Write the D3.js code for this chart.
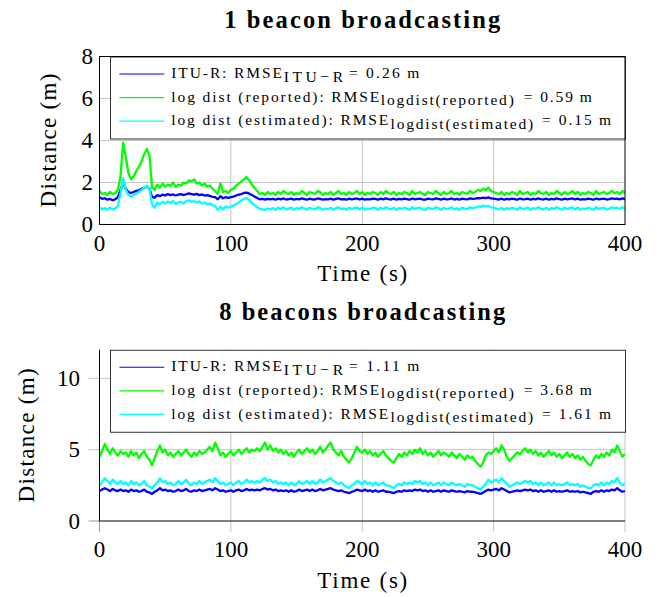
<!DOCTYPE html>
<html><head><meta charset="utf-8">
<script src="https://cdn.jsdelivr.net/npm/d3@7"></script>
<style>body{margin:0;background:#fff}</style>
</head><body>
<svg id="c" width="659" height="597"></svg>
<script>
// ---------------- data ----------------
const times = d3.range(0, 401, 2); // sample instants (s)
const seriesNames = ["ITU-R", "log dist (reported)", "log dist (estimated)"];
const seriesColors = ["#0000ff", "#00ff00", "#00ffff"];
const rmseSubs = ["ITU\u2212R", "logdist(reported)", "logdist(estimated)"];
const rmse1 = ["0.26", "0.59", "0.15"];
const rmse8 = ["1.11", "3.68", "1.61"];
const titles = ["1 beacon broadcasting", "8 beacons broadcasting"];
const xTicks = [0, 100, 200, 300, 400];
const yTicks1 = [0, 2, 4, 6, 8];
const yTicks8 = [0, 5, 10];

const itu1 = [1.3,1.22,1.25,1.18,1.22,1.15,1.2,1.3,
1.65,2.0,1.7,1.55,1.5,1.55,1.6,1.62,1.7,1.75,1.8,1.72,1.3,1.28,
1.4,1.35,1.42,1.38,1.45,1.4,1.43,1.38,1.42,1.45,1.4,1.44,1.48,1.45,1.42,1.46,1.4,1.43,1.38,1.4,1.36,1.32,
1.3,1.2,1.35,1.25,1.3,1.27,1.3,1.33,1.38,1.42,1.45,1.5,1.52,1.47,1.4,1.33,1.26,1.2,1.22,1.18,1.22,1.2,
1.22,1.18,1.23,1.2,1.24,1.19,1.21,1.23,1.18,1.22,
1.2,1.24,1.21,1.18,1.23,1.2,1.19,1.24,1.22,1.18,
1.21,1.2,1.23,1.18,1.22,1.24,1.2,1.21,1.18,1.23,
1.2,1.22,1.24,1.19,1.23,1.18,1.21,1.2,1.23,1.22,
1.18,1.23,1.2,1.24,1.21,1.19,1.23,1.18,1.22,1.2,
1.23,1.21,1.18,1.24,1.2,1.22,1.23,1.19,1.18,1.23,
1.21,1.2,1.24,1.22,1.18,1.23,1.2,1.21,1.24,1.19,
1.22,1.18,1.23,1.21,1.2,1.24,1.22,1.23,1.26,1.25,
1.28,1.26,1.29,1.24,1.23,1.21,1.19,1.23,1.18,1.22,
1.2,1.23,1.21,1.18,1.24,1.2,1.21,1.23,1.18,1.22,
1.2,1.24,1.21,1.19,1.23,1.18,1.22,1.2,1.24,1.21,
1.18,1.23,1.2,1.22,1.24,1.19,1.23,1.18,1.21,1.2,
1.23,1.21,1.18,1.24,1.2,1.22,1.23,1.19,1.21,1.24,
1.22,1.23,1.2,1.24,1.21];

const rep1 = [1.6,1.45,1.5,1.4,1.55,1.45,1.5,1.65,
2.3,3.9,3.2,2.45,2.15,2.3,2.55,2.75,3.0,3.35,3.6,3.3,1.75,1.65,
1.9,1.75,1.95,1.8,1.9,1.85,2.0,1.8,1.9,1.85,2.0,1.95,2.1,2.05,2.15,1.95,2.0,1.85,1.95,1.8,1.85,1.7,
1.6,1.45,1.95,1.55,1.6,1.5,1.65,1.7,1.85,1.95,2.05,2.15,2.25,2.1,1.9,1.75,1.6,1.45,1.5,1.4,1.55,1.45,
1.5,1.4,1.55,1.45,1.6,1.5,1.45,1.55,1.4,1.5,
1.45,1.6,1.5,1.4,1.55,1.5,1.45,1.6,1.55,1.4,
1.5,1.45,1.55,1.4,1.5,1.6,1.45,1.5,1.4,1.55,
1.45,1.5,1.6,1.45,1.55,1.4,1.5,1.45,1.55,1.5,
1.4,1.55,1.45,1.6,1.5,1.45,1.55,1.4,1.5,1.45,
1.55,1.5,1.4,1.6,1.45,1.5,1.55,1.45,1.4,1.55,
1.5,1.45,1.6,1.5,1.4,1.55,1.45,1.5,1.6,1.45,
1.5,1.4,1.55,1.5,1.45,1.6,1.5,1.55,1.65,1.6,
1.7,1.65,1.75,1.6,1.55,1.5,1.45,1.55,1.4,1.5,
1.45,1.55,1.5,1.4,1.6,1.45,1.5,1.55,1.4,1.5,
1.45,1.6,1.5,1.45,1.55,1.4,1.5,1.45,1.6,1.5,
1.4,1.55,1.45,1.5,1.6,1.45,1.55,1.4,1.5,1.45,
1.55,1.5,1.4,1.6,1.45,1.5,1.55,1.45,1.5,1.6,
1.5,1.55,1.45,1.6,1.5];

const est1 = [0.82,0.72,0.78,0.7,0.8,0.72,0.76,0.88,
1.5,2.2,1.65,1.4,1.32,1.4,1.48,1.55,1.65,1.75,1.85,1.7,0.95,0.8,
1.05,0.95,1.08,1.0,1.1,1.02,1.12,0.98,1.05,1.08,1.0,1.1,1.15,1.08,1.12,1.05,1.1,1.0,1.05,0.95,1.0,0.92,
0.88,0.7,0.85,0.72,0.85,0.8,0.85,0.9,0.98,1.05,1.15,1.22,1.26,1.15,1.02,0.92,0.82,0.74,0.72,0.7,0.76,0.72,
0.78,0.7,0.8,0.74,0.82,0.72,0.76,0.8,0.7,0.78,
0.74,0.82,0.76,0.7,0.8,0.75,0.72,0.82,0.78,0.7,
0.76,0.74,0.8,0.7,0.78,0.82,0.74,0.76,0.7,0.8,
0.74,0.78,0.82,0.72,0.8,0.7,0.76,0.74,0.8,0.78,
0.7,0.8,0.74,0.82,0.76,0.72,0.8,0.7,0.78,0.74,
0.8,0.76,0.7,0.82,0.74,0.78,0.8,0.72,0.7,0.8,
0.76,0.74,0.82,0.78,0.7,0.8,0.74,0.76,0.82,0.72,
0.78,0.7,0.8,0.76,0.74,0.82,0.78,0.8,0.86,0.84,
0.9,0.86,0.88,0.82,0.8,0.76,0.72,0.8,0.7,0.78,
0.74,0.8,0.76,0.7,0.82,0.74,0.76,0.8,0.7,0.78,
0.74,0.82,0.76,0.72,0.8,0.7,0.78,0.74,0.82,0.76,
0.7,0.8,0.74,0.78,0.82,0.72,0.8,0.7,0.76,0.74,
0.8,0.76,0.7,0.82,0.74,0.78,0.8,0.72,0.76,0.82,
0.78,0.8,0.74,0.82,0.76];

const itu8 = [2.1,2.2,2.3,2.2,2.1,2.25,2.15,2.1,2.2,2.1,
2.15,2.05,2.2,2.1,2.15,2.05,2.1,2.2,2.05,2.0,
1.9,2.05,2.15,2.3,2.15,2.2,2.1,2.15,2.05,2.1,
2.2,2.1,2.15,2.25,2.1,2.05,2.15,2.1,2.2,2.1,
2.15,2.2,2.25,2.15,2.3,2.2,2.1,2.15,2.05,2.1,
2.15,2.05,2.15,2.2,2.1,2.15,2.25,2.15,2.2,2.15,
2.2,2.15,2.25,2.3,2.2,2.25,2.15,2.2,2.1,2.15,
2.1,2.15,2.05,2.15,2.05,2.1,2.2,2.1,2.15,2.2,
2.1,2.2,2.1,2.15,2.25,2.15,2.2,2.25,2.3,2.2,
2.15,2.1,2.15,2.05,2.0,1.95,2.05,2.1,2.2,2.15,
2.1,2.2,2.1,2.15,2.05,2.15,2.05,2.1,2.15,2.05,
2.05,2.0,1.95,2.05,2.1,2.05,2.15,2.1,2.15,2.1,
2.2,2.15,2.2,2.1,2.15,2.05,2.15,2.05,2.1,2.15,
2.05,2.15,2.1,2.05,2.15,2.1,2.05,2.1,2.05,2.0,
2.1,2.05,2.05,2.0,1.95,1.9,2.0,2.1,2.2,2.15,
2.2,2.25,2.15,2.3,2.2,2.1,2.0,2.05,2.1,2.15,
2.1,2.15,2.2,2.15,2.2,2.1,2.15,2.05,2.15,2.05,
2.1,2.15,2.05,2.15,2.05,2.1,2.05,2.1,2.15,2.05,
2.1,2.05,2.1,2.0,2.05,2.0,1.95,1.9,2.05,2.1,
2.05,2.15,2.05,2.15,2.1,2.2,2.15,2.3,2.15,2.05,
2.1];

const rep8 = [4.5,4.9,5.4,5.0,4.7,5.1,4.8,4.6,4.9,4.7,
4.8,4.5,4.9,4.6,4.8,4.4,4.7,4.9,4.5,4.3,
3.9,4.4,4.9,5.3,4.8,5.0,4.6,4.8,4.5,4.7,
4.9,4.6,4.8,5.0,4.7,4.5,4.8,4.6,4.9,4.7,
4.8,5.0,5.2,4.9,5.5,5.1,4.6,4.8,4.5,4.7,
4.9,4.6,4.8,5.0,4.7,4.9,5.1,4.8,5.0,4.9,
5.1,4.9,5.2,5.5,5.0,5.3,4.9,5.1,4.8,5.0,
4.7,4.9,4.6,4.8,4.5,4.8,5.0,4.7,4.9,5.1,
4.8,5.0,4.7,4.9,5.2,4.8,5.0,5.3,5.5,5.0,
4.8,4.6,4.9,4.5,4.3,4.1,4.4,4.8,5.2,4.9,
4.8,5.0,4.7,4.9,4.6,4.8,4.5,4.7,4.9,4.6,
4.4,4.2,4.1,4.4,4.7,4.5,4.8,4.6,4.9,4.7,
5.0,4.8,5.1,4.7,4.9,4.6,4.8,4.5,4.7,4.9,
4.6,4.8,4.7,4.5,4.8,4.6,4.4,4.7,4.5,4.3,
4.6,4.4,4.5,4.2,4.0,3.8,4.1,4.6,4.8,4.7,
4.9,5.1,4.8,5.3,5.0,4.5,4.2,4.4,4.6,4.8,
4.7,4.9,5.1,4.8,5.0,4.7,4.9,4.6,4.8,4.5,
4.7,4.9,4.6,4.8,4.5,4.7,4.4,4.6,4.8,4.5,
4.7,4.4,4.6,4.3,4.5,4.2,4.0,3.9,4.3,4.6,
4.4,4.7,4.5,4.8,4.6,5.0,4.8,5.3,4.9,4.5,
4.7];

const est8 = [2.5,2.7,3.0,2.8,2.6,2.9,2.7,2.6,2.8,2.6,
2.7,2.5,2.8,2.6,2.7,2.5,2.6,2.8,2.5,2.4,
2.3,2.5,2.7,3.0,2.7,2.8,2.6,2.7,2.5,2.6,
2.8,2.6,2.7,2.9,2.6,2.5,2.7,2.6,2.8,2.6,
2.7,2.8,2.9,2.7,3.0,2.8,2.6,2.7,2.5,2.6,
2.7,2.5,2.7,2.8,2.6,2.7,2.9,2.7,2.8,2.7,
2.8,2.7,2.9,3.0,2.8,2.9,2.7,2.8,2.6,2.7,
2.6,2.7,2.5,2.7,2.5,2.6,2.8,2.6,2.7,2.8,
2.6,2.8,2.6,2.7,2.9,2.7,2.8,2.9,3.0,2.8,
2.7,2.6,2.7,2.5,2.4,2.3,2.5,2.6,2.8,2.7,
2.6,2.8,2.6,2.7,2.5,2.7,2.5,2.6,2.7,2.5,
2.5,2.4,2.3,2.5,2.6,2.5,2.7,2.6,2.7,2.6,
2.8,2.7,2.8,2.6,2.7,2.5,2.7,2.5,2.6,2.7,
2.5,2.7,2.6,2.5,2.7,2.6,2.5,2.6,2.5,2.4,
2.6,2.5,2.5,2.4,2.3,2.2,2.4,2.6,2.9,2.7,
2.8,2.9,2.7,3.0,2.8,2.6,2.4,2.5,2.6,2.7,
2.6,2.7,2.8,2.7,2.8,2.6,2.7,2.5,2.7,2.5,
2.6,2.7,2.5,2.7,2.5,2.6,2.5,2.6,2.7,2.5,
2.6,2.5,2.6,2.4,2.5,2.4,2.3,2.3,2.5,2.6,
2.5,2.7,2.5,2.7,2.6,2.8,2.7,3.0,2.7,2.5,
2.6];

// ---------------- drawing ----------------
const FONT = '"Liberation Serif"';
const svg = d3.select("#c");
const X0 = 99.5, X1 = 625;
const gridCol = "#c4c4c4";

function txt(sel) {
  return sel.append("text").attr("font-family", FONT).attr("fill", "#000");
}

function drawPanel(cfg) {
  const g = svg.append("g");
  const x = d3.scaleLinear().domain([0, 400]).range([X0, X1]);
  const y = d3.scaleLinear().domain([0, cfg.ymax]).range([cfg.yBottom, cfg.yTop]);

  // title
  txt(g).attr("x", (X0 + X1) / 2).attr("y", cfg.titleY)
    .attr("text-anchor", "middle").attr("font-weight", "bold").attr("font-size", 24.5)
    .attr("textLength", cfg.titleLen).attr("lengthAdjust", "spacing").text(cfg.title);

  // grid
  const ext = cfg.boxed ? 0 : 11;
  g.selectAll(".gx").data(xTicks.filter(d => d > 0 && (cfg.boxed ? d < 400 : true))).enter().append("line")
    .attr("x1", d => x(d)).attr("x2", d => x(d)).attr("y1", y(cfg.ymax)).attr("y2", y(0) + ext)
    .attr("stroke", gridCol).attr("stroke-width", 1);
  g.selectAll(".gy").data(cfg.yTicks.filter(d => d > 0 && d < cfg.ymax)).enter().append("line")
    .attr("x1", X0 - ext).attr("x2", X1).attr("y1", d => y(d)).attr("y2", d => y(d))
    .attr("stroke", gridCol).attr("stroke-width", 1);
  if (!cfg.boxed) {
    g.append("line").attr("x1", X0).attr("x2", X0).attr("y1", y(0)).attr("y2", y(0) + ext)
      .attr("stroke", "#999").attr("stroke-width", 1);
    g.append("line").attr("x1", X0 - ext).attr("x2", X0).attr("y1", y(0)).attr("y2", y(0))
      .attr("stroke", "#999").attr("stroke-width", 1);
  }

  // data
  const clipId = "clip" + cfg.id;
  svg.append("clipPath").attr("id", clipId).append("rect")
    .attr("x", X0).attr("y", y(cfg.ymax)).attr("width", X1 - X0).attr("height", y(0) - y(cfg.ymax));
  const line = d3.line().x((d, i) => x(times[i])).y(d => y(d)).curve(d3.curveLinear);
  g.append("g").attr("clip-path", `url(#${clipId})`).selectAll("path").data(cfg.series).enter().append("path")
    .attr("d", d => line(d)).attr("fill", "none")
    .attr("stroke", (d, i) => seriesColors[i]).attr("stroke-width", 2.3).attr("stroke-linejoin", "round");

  // legend
  const lt = y(cfg.ymax) + 0.5;
  const lg = g.append("g");
  lg.append("rect").attr("x", 110.5).attr("y", lt).attr("width", X1 + 0.5 - 110.5).attr("height", 82)
    .attr("fill", "#fff").attr("stroke", "#333").attr("stroke-width", 1);
  const rowDy = [17, 40.6, 64.2];
  const segStart = [[171.3, 283.8, 349], [171.3, 380.8, 523.8], [171.3, 390.6, 542]];
  const segLen = [[110.7, 59.2, 70.4], [208, 133, 68], [217, 142.6, 69]];
  seriesNames.forEach((nm, i) => {
    const ry = lt + rowDy[i];
    lg.append("line").attr("x1", 119.4).attr("x2", 164.3).attr("y1", ry).attr("y2", ry)
      .attr("stroke", seriesColors[i]).attr("stroke-width", 1.2);
    const parts = [nm + ": RMSE", rmseSubs[i], "= " + cfg.rmse[i] + "\u2009m"];
    parts.forEach((p, k) => {
      txt(lg).attr("x", segStart[i][k]).attr("y", ry + (k === 1 ? 7.5 : 4.2))
        .attr("font-size", 15.5).attr("textLength", segLen[i][k]).attr("lengthAdjust", "spacing")
        .text(p);
    });
  });

  // axes
  if (cfg.boxed) {
    g.append("rect").attr("x", X0).attr("y", y(cfg.ymax)).attr("width", X1 - X0).attr("height", y(0) - y(cfg.ymax))
      .attr("fill", "none").attr("stroke", "#000").attr("stroke-width", 1);
  } else {
    g.append("line").attr("x1", X0).attr("x2", X0).attr("y1", y(cfg.ymax)).attr("y2", y(0))
      .attr("stroke", "#000").attr("stroke-width", 1);
    g.append("line").attr("x1", X0).attr("x2", X1).attr("y1", y(0)).attr("y2", y(0))
      .attr("stroke", "#000").attr("stroke-width", 1);
  }

  // tick labels
  xTicks.forEach(d => {
    txt(g).attr("x", x(d)).attr("y", cfg.xLabelY).attr("text-anchor", "middle")
      .attr("font-size", 23).text(d);
  });
  cfg.yTicks.forEach(d => {
    txt(g).attr("x", cfg.yLabelX).attr("y", y(d) + 7.8).attr("text-anchor", "end")
      .attr("font-size", 23).text(d);
  });

  // axis titles
  txt(g).attr("x", (X0 + X1) / 2).attr("y", cfg.xTitleY).attr("text-anchor", "middle")
    .attr("font-size", 23).attr("textLength", 90).attr("lengthAdjust", "spacing").text("Time (s)");
  txt(g).attr("transform", `translate(${cfg.yTitleX},${(y(0) + y(cfg.ymax)) / 2}) rotate(-90)`)
    .attr("text-anchor", "middle").attr("font-size", 23)
    .attr("textLength", 134).attr("lengthAdjust", "spacing").text("Distance (m)");
}

drawPanel({id: 1, title: titles[0], titleY: 28, titleLen: 276, ymax: 8, yTicks: yTicks1,
  yBottom: 224.5, yTop: 56.5, boxed: true, series: [itu1, rep1, est1], rmse: rmse1,
  xLabelY: 251, yLabelX: 93, xTitleY: 281, yTitleX: 56});
drawPanel({id: 8, title: titles[1], titleY: 320, titleLen: 286, ymax: 12, yTicks: yTicks8,
  yBottom: 521, yTop: 521 - 12 * 14.27, boxed: false, series: [itu8, rep8, est8], rmse: rmse8,
  xLabelY: 557, yLabelX: 80, xTitleY: 588, yTitleX: 34});
</script>
</body></html>
